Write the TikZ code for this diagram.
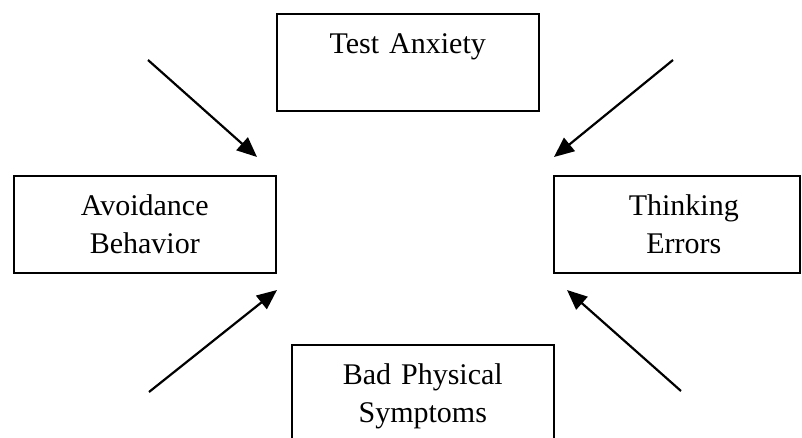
\documentclass[tikz,border=0pt]{standalone}
\usepackage{fontspec}
\setmainfont{Liberation Serif}
\usetikzlibrary{arrows.meta}

\begin{document}
\begin{tikzpicture}[x=1pt, y=-1pt,
  box/.style={draw, line width=1.5pt, anchor=north west, text width=262pt, align=center,
    inner xsep=0pt, inner ysep=0pt, text height=40pt, text depth=57pt,
    font=\fontsize{30}{38}\selectfont},
  arr/.style={-{Triangle[length=20pt,width=17pt]}, line width=2.2pt}
]
\useasboundingbox (0,0) rectangle (802,437);

\node[box] (anxiety) at (276,13) {Test Anxiety};
\node[box] (avoid) at (13,175) {Avoidance\\Behavior};
\node[box, text width=246pt] (thinking) at (553,175) {\hspace*{14pt}Thinking\\\hspace*{14pt}Errors};
\node[box] (physical) at (291,344) {Bad Physical\\Symptoms};

\coordinate (tl) at (148,60);   \coordinate (tlend) at (257,157);
\coordinate (tr) at (673,60);   \coordinate (trend) at (554,157);
\coordinate (bl) at (149,392);  \coordinate (blend) at (277,290);
\coordinate (br) at (681,391);  \coordinate (brend) at (567,290);

\draw[arr] (tl) -- (tlend);
\draw[arr] (tr) -- (trend);
\draw[arr] (bl) -- (blend);
\draw[arr] (br) -- (brend);
\end{tikzpicture}
\end{document}
